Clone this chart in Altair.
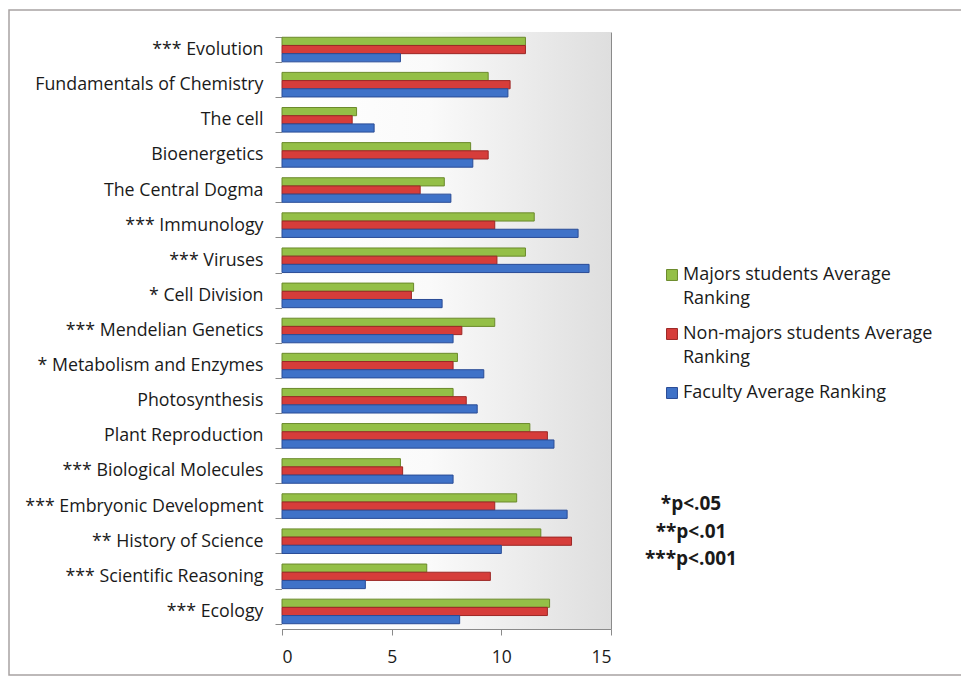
import altair as alt
import pandas as pd

categories = [
    "*** Evolution", "Fundamentals of Chemistry", "The cell", "Bioenergetics",
    "The Central Dogma", "*** Immunology", "*** Viruses", "* Cell Division",
    "*** Mendelian Genetics", "* Metabolism  and Enzymes", "Photosynthesis",
    "Plant Reproduction", "*** Biological Molecules", "*** Embryonic Development",
    "** History of Science", "*** Scientific Reasoning", "*** Ecology",
]
majors = [11.1, 9.4, 3.4, 8.6, 7.4, 11.5, 11.1, 6.0, 9.7, 8.0, 7.8, 11.3, 5.4, 10.7, 11.8, 6.6, 12.2]
nonmajors = [11.1, 10.4, 3.2, 9.4, 6.3, 9.7, 9.8, 5.9, 8.2, 7.8, 8.4, 12.1, 5.5, 9.7, 13.2, 9.5, 12.1]
faculty = [5.4, 10.3, 4.2, 8.7, 7.7, 13.5, 14.0, 7.3, 7.8, 9.2, 8.9, 12.4, 7.8, 13.0, 10.0, 3.8, 8.1]
series = ["Majors students Average Ranking", "Non-majors students Average Ranking", "Faculty Average Ranking"]
fill_colors = ["#94bf47", "#d63d3a", "#3f72c8"]
stroke_colors = ["#6b8a2c", "#9c2826", "#2a4c96"]
pvalue_notes = ["*p<.05", "**p<.01", "***p<.001"]

rows = []
for name, vals in zip(series, [majors, nonmajors, faculty]):
    for c, v in zip(categories, vals):
        rows.append({"topic": c, "series": name, "value": v})
df = pd.DataFrame(rows)

W, H = 329, 597
FONT = "Open Sans"

background = alt.Chart(pd.DataFrame({"a": [0]})).mark_rect(
    color={
        "gradient": "linear", "x1": 0, "x2": 1, "y1": 0, "y2": 0,
        "stops": [
            {"offset": 0, "color": "#ffffff"},
            {"offset": 0.45, "color": "#fafafa"},
            {"offset": 1, "color": "#dedede"},
        ],
    }
).encode(x=alt.value(0), x2=alt.value(W), y=alt.value(0), y2=alt.value(H))

frame = alt.Chart(pd.DataFrame({"a": [0]})).mark_rect(
    fill=None, stroke="#a8a2a2", strokeWidth=1.5
).encode(x=alt.value(-273), x2=alt.value(720), y=alt.value(-22), y2=alt.value(643))

bars = alt.Chart(df).mark_bar(strokeWidth=1).encode(
    x=alt.X("value:Q", scale=alt.Scale(domain=[0, 15], nice=False),
            axis=alt.Axis(values=[0, 5, 10, 15], title=None, grid=True,
                          gridColor="#8a8a8a", domainColor="#8a8a8a",
                          tickColor="#8a8a8a", tickSize=6, labelPadding=13,
                          labelFont=FONT, labelFontSize=17.5, labelColor="#1a1a1a")),
    y=alt.Y("topic:N", sort=categories,
            scale=alt.Scale(paddingInner=0.3, paddingOuter=0.15),
            axis=alt.Axis(title=None, tickBand="extent", domainColor="#8a8a8a",
                          tickColor="#8a8a8a", tickSize=7, labelPadding=12,
                          labelFont=FONT, labelFontSize=17.8, labelColor="#1a1a1a",
                          labelLimit=400)),
    yOffset=alt.YOffset("series:N", sort=series,
                        scale=alt.Scale(paddingInner=0, paddingOuter=0)),
    color=alt.Color("series:N", sort=series,
                    scale=alt.Scale(domain=series, range=fill_colors),
                    legend=alt.Legend(
                        title=None, orient="none", legendX=381, legendY=234,
                        labelFont=FONT, labelFontSize=18, labelColor="#1a1a1a",
                        symbolType="square", symbolSize=120, symbolStrokeWidth=1,
                        labelOffset=2, rowPadding=17, labelLimit=400,
                        labelExpr="indexof(datum.label, 'students') >= 0 ? [slice(datum.label, 0, -8), 'Ranking'] : datum.label",
                    )),
    stroke=alt.Stroke("series:N", sort=series,
                      scale=alt.Scale(domain=series, range=stroke_colors),
                      legend=None),
)

notes = alt.Chart(pd.DataFrame({"a": [0]})).mark_text(
    text=pvalue_notes, font=FONT, fontSize=19, fontWeight="bold",
    align="center", baseline="middle", lineHeight=27.5, color="#1a1a1a"
).encode(x=alt.value(409), y=alt.value(472))

chart = alt.layer(background, frame, bars, notes).properties(
    width=W, height=H,
    autosize=alt.AutoSizeParams(type="none"),
    padding={"left": 282, "top": 32, "right": 350, "bottom": 47},
).configure(
    background="white",
    style={"guide-label": {"lineHeight": 24}},
).configure_view(stroke=None)

chart.save("out.html", embed_options={"renderer": "svg", "actions": False})
